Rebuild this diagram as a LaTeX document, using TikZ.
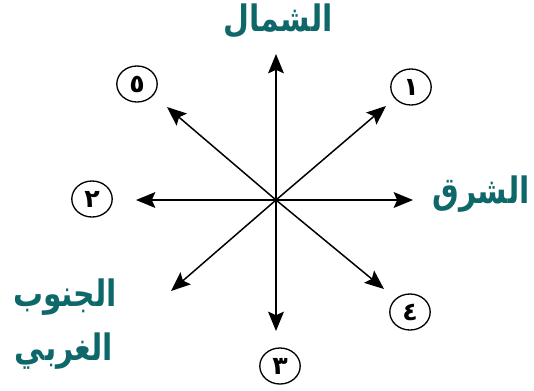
\documentclass[tikz,border=0pt]{standalone}
\usepackage{fontspec}
\newfontfamily\arabicfont[Script=Arabic]{DejaVu Sans}
\TeXXeTstate=1
\usetikzlibrary{arrows.meta,shapes.geometric}
\definecolor{tealtext}{RGB}{14,104,106}
\tikzset{
	ar/.style={line width=0.85pt,-{Stealth[length=11pt,width=9pt,inset=2pt]}},
	num/.style={draw,ellipse,line width=0.75pt,minimum width=23pt,minimum height=20.5pt,inner sep=0pt,font=\arabicfont\bfseries\Large},
	dir/.style={text=tealtext,font=\arabicfont\bfseries\huge,inner sep=0pt,xscale=0.82}
}
\begin{document}
\begin{tikzpicture}[x=0.02cm,y=-0.02cm, line join=round, line cap=round]
			\useasboundingbox (0,0) rectangle (534,390);
			% tam va dau mui ten
			\coordinate (O) at (276,200);
			\coordinate (N) at (276,54);
			\coordinate (E) at (413,200);
			\coordinate (W) at (136,200);
			\coordinate (S) at (276,331);
			\coordinate (NE) at (386,106);
			\coordinate (SE) at (384,289);
			\coordinate (NW) at (167,107);
			\coordinate (SW) at (171,291);
			\draw[ar] (O) -- (N);
			\draw[ar] (O) -- (E);
			\draw[ar] (O) -- (W);
			\draw[ar] (O) -- (S);
			\draw[ar] (O) -- (NE);
			\draw[ar] (O) -- (SE);
			\draw[ar] (O) -- (NW);
			\draw[ar] (O) -- (SW);
			% so
			\node[num] (n1) at (411,87) {\beginR ١\endR};
			\node[num] (n2) at (92,199) {\beginR ٢\endR};
			\node[num] (n3) at (280,366) {\beginR ٣\endR};
			\node[num] (n4) at (410,312) {\beginR ٤\endR};
			\node[num] (n5) at (137,84) {\beginR ٥\endR};
			% chu
			\node[dir] (north) at (278,21) {\beginR الشمال\endR};
			\node[dir] (east) at (481,194) {\beginR الشرق\endR};
			\node[dir] (south) at (65,297) {\beginR الجنوب\endR};
			\node[dir] (west) at (64,351) {\beginR الغربي\endR};
		\end{tikzpicture}
\end{document}
